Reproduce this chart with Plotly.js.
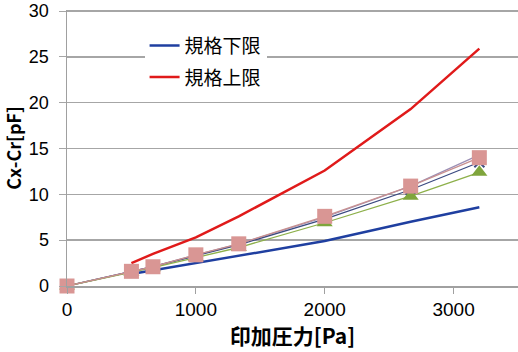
<!DOCTYPE html>
<html><head><meta charset="utf-8">
<script src="https://cdn.plot.ly/plotly-3.0.1.min.js"></script>
<style>html,body{margin:0;padding:0;background:#fff}#c{width:518px;height:352px}</style>
</head><body><div id="c"></div>
<script>
const pressure = [0, 500, 667, 1000, 1333, 2000, 2667, 3200];
const limitX = [500, 667, 1000, 1333, 2000, 2667, 3200];
const lowerLimit = [1.3, 1.7, 2.5, 3.3, 4.9, 7.0, 8.6];
const upperLimit = [2.5, 3.5, 5.3, 7.6, 12.6, 19.3, 25.9];
const sampleA = [0, 1.6, 2.1, 3.4, 4.6, 7.5, 10.9, 14.3];  // grey/purple
const sampleB = [0, 1.6, 2.1, 3.3, 4.5, 7.3, 10.5, 13.5];  // navy
const sampleC = [0, 1.5, 2.0, 3.1, 4.2, 6.9, 9.8, 12.4];   // green
const sampleD = [0, 1.6, 2.1, 3.4, 4.6, 7.6, 10.9, 14.0];  // pink
const legendNames = ['規格下限', '規格上限'];
const xTicks = [0, 1000, 2000, 3000];
const yTicks = [0, 5, 10, 15, 20, 25, 30];

const traces = [
  {x: pressure, y: sampleA, mode: 'lines', line: {color: '#9C8FB5', width: 1.3}, showlegend: false, cliponaxis: false},
  {x: pressure, y: sampleB, mode: 'lines+markers', line: {color: '#3B4A80', width: 1.3}, cliponaxis: false,
   marker: {symbol: 'x-thin-open', size: 10, line: {color: '#3B4A80', width: 2}}, showlegend: false},
  {x: pressure, y: sampleC, mode: 'lines+markers', line: {color: '#8DB04A', width: 1.3}, cliponaxis: false,
   marker: {symbol: 'triangle-up', size: 14, color: '#7FA53C'}, showlegend: false},
  {x: limitX, y: lowerLimit, mode: 'lines', name: legendNames[0], legendgroup: 'a',
   line: {color: '#1F3FA0', width: 2.5}},
  {x: limitX, y: upperLimit, mode: 'lines', name: legendNames[1], legendgroup: 'b',
   line: {color: '#E01A1A', width: 2.5}},
  {x: pressure, y: sampleD, mode: 'lines+markers', line: {color: '#C89090', width: 1.3}, cliponaxis: false,
   marker: {symbol: 'square', size: 15, color: '#D99694'}, showlegend: false}
];

const fam = '"Noto Sans CJK JP", "Noto Sans", sans-serif';
const numFam = '"Liberation Sans", Arial, sans-serif';
const layout = {
  width: 518, height: 352,
  margin: {l: 67, r: 0, t: 10, b: 66},
  paper_bgcolor: '#fff', plot_bgcolor: '#fff',
  font: {family: fam, color: '#000', size: 18},
  showlegend: true,
  legend: {x: 0.172, y: 0.94, xanchor: 'left', yanchor: 'top', bgcolor: '#fff',
           font: {size: 19, family: fam}, traceorder: 'grouped', tracegroupgap: 4,
           itemwidth: 30},
  xaxis: {range: [0, 3500], tickvals: xTicks, ticktext: xTicks.map(String),
          showgrid: false, zeroline: false, showline: true, linecolor: '#A0A0A0', linewidth: 1.5,
          ticks: 'outside', ticklen: 6, tickcolor: '#A0A0A0', tickfont: {size: 19, family: numFam},
          title: {text: '<b>印加圧力[Pa]</b>', font: {size: 21, family: fam}, standoff: 2}},
  yaxis: {range: [0, 30.11], tickvals: yTicks, ticktext: yTicks.map(String),
          ticklabeloverflow: 'allow',
          showgrid: true, gridcolor: '#A6A6A6', gridwidth: 1.5, zeroline: false,
          showline: true, linecolor: '#A0A0A0', linewidth: 1.5, ticklabelstandoff: 6,
          ticks: 'outside', ticklen: 7, tickcolor: '#A6A6A6', tickfont: {size: 18, family: numFam},
          title: {text: '<b>Cx-Cr[pF]</b>', font: {size: 18, family: fam}, standoff: 8}}
};
Plotly.newPlot('c', traces, layout, {staticPlot: true, displayModeBar: false});
</script></body></html>
